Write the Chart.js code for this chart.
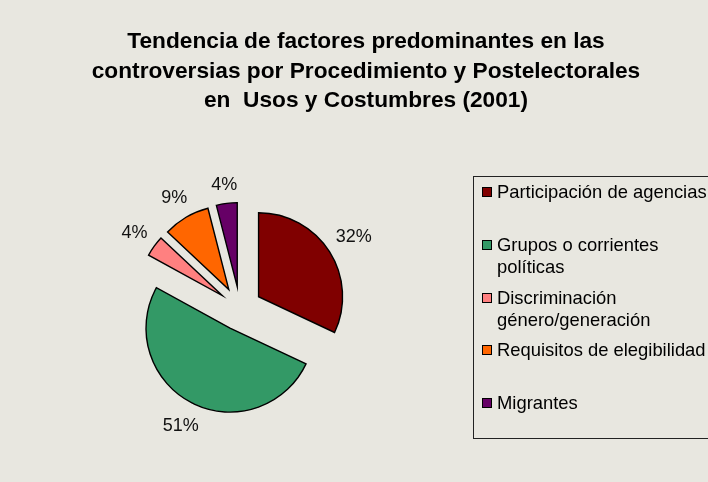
<!DOCTYPE html>
<html lang="es">
<head>
  <meta charset="UTF-8">
  <title>Tendencia de factores predominantes</title>
  <script src="https://cdn.jsdelivr.net/npm/chart.js"></script>
  <style>
    html, body {
      margin: 0;
      padding: 0;
      background-color: #e8e7e0;
      font-family: "Liberation Sans", Arial, sans-serif;
    }
    .wrap {
      position: relative;
      width: 708px;
      height: 482px;
      overflow: hidden;
    }
    #pieChart {
      position: absolute;
      left: 0;
      top: 0;
    }
    .title {
      position: absolute;
      left: 66px;
      width: 600px;
      top: 26px;
      text-align: center;
      font-weight: bold;
      font-size: 22.7px;
      line-height: 29.5px;
      color: #000;
      white-space: nowrap;
    }
    .legend {
      position: absolute;
      left: 473px;
      top: 176px;
      width: 260px;
      height: 263px;
      border: 1px solid #222;
      box-sizing: border-box;
    }
    .legend .item {
      position: absolute;
      left: 23px;
      font-size: 18.4px;
      line-height: 22px;
      color: #000;
      white-space: nowrap;
    }
    .legend .box {
      position: absolute;
      left: -15px;
      top: 6px;
      width: 10px;
      height: 10px;
      border: 1px solid #000;
      box-sizing: border-box;
    }
  </style>
</head>
<body>
  <div class="wrap">
    <canvas id="pieChart" width="708" height="482"></canvas>
    <div class="title">Tendencia de factores predominantes en las<br>controversias por Procedimiento y Postelectorales<br>en&nbsp; Usos y Costumbres (2001)</div>
    <div class="legend" id="legend"></div>
  </div>

  <script>
    const categories = [
      ['Participación de agencias'],
      ['Grupos o corrientes', 'políticas'],
      ['Discriminación', 'género/generación'],
      ['Requisitos de elegibilidad'],
      ['Migrantes']
    ];
    const values = [32, 51, 4, 9, 4];
    const colors = ['#800000', '#339966', '#ff8080', '#ff6600', '#660066'];

    const EXPLODE = 22;
    const LABEL_GAP = 9;

    // slices pushed out from the centre, drawn from the library's arc elements
    const explodePlugin = {
      id: 'explode',
      beforeDatasetDraw(chart, args) {
        const ctx = chart.ctx;
        args.meta.data.forEach(arc => {
          const mid = (arc.startAngle + arc.endAngle) / 2;
          ctx.save();
          ctx.translate(Math.cos(mid) * EXPLODE, Math.sin(mid) * EXPLODE);
          arc.draw(ctx);
          ctx.restore();
        });
        return false;
      },
      afterDatasetsDraw(chart) {
        const ctx = chart.ctx;
        const meta = chart.getDatasetMeta(0);
        const data = chart.data.datasets[0].data;
        const total = data.reduce((a, b) => a + b, 0);
        ctx.save();
        ctx.font = '18px "Liberation Sans", Arial, sans-serif';
        ctx.fillStyle = '#111';
        ctx.textAlign = 'center';
        ctx.textBaseline = 'middle';
        meta.data.forEach((arc, i) => {
          const txt = Math.round(data[i] / total * 100) + '%';
          const mid = (arc.startAngle + arc.endAngle) / 2;
          const dx = Math.cos(mid), dy = Math.sin(mid);
          const w = ctx.measureText(txt).width;
          const h = 17;
          const d = arc.outerRadius + EXPLODE + LABEL_GAP + Math.abs(dx) * w / 2 + Math.abs(dy) * h / 2;
          ctx.fillText(txt, arc.x + dx * d, arc.y + dy * d + 1);
        });
        ctx.restore();
      }
    };

    const ctxPie = document.getElementById('pieChart').getContext('2d');
    const pieChart = new Chart(ctxPie, {
      type: 'pie',
      data: {
        labels: categories,
        datasets: [{
          data: values,
          backgroundColor: colors,
          borderColor: '#000',
          borderWidth: 1.4,
          borderJoinStyle: 'miter',
          radius: 84
        }]
      },
      options: {
        responsive: false,
        animation: false,
        layout: {
          padding: { left: 0, right: 228, top: 136, bottom: 1 }
        },
        plugins: {
          legend: { display: false },
          tooltip: { enabled: false }
        }
      },
      plugins: [explodePlugin]
    });

    // legend box on the right
    const legendEl = document.getElementById('legend');
    categories.forEach((lines, i) => {
      const item = document.createElement('div');
      item.className = 'item';
      item.style.top = (4 + i * 52.8) + 'px';
      const box = document.createElement('span');
      box.className = 'box';
      box.style.backgroundColor = colors[i];
      item.appendChild(box);
      item.innerHTML += lines.join('<br>');
      legendEl.appendChild(item);
    });
  </script>
</body>
</html>
